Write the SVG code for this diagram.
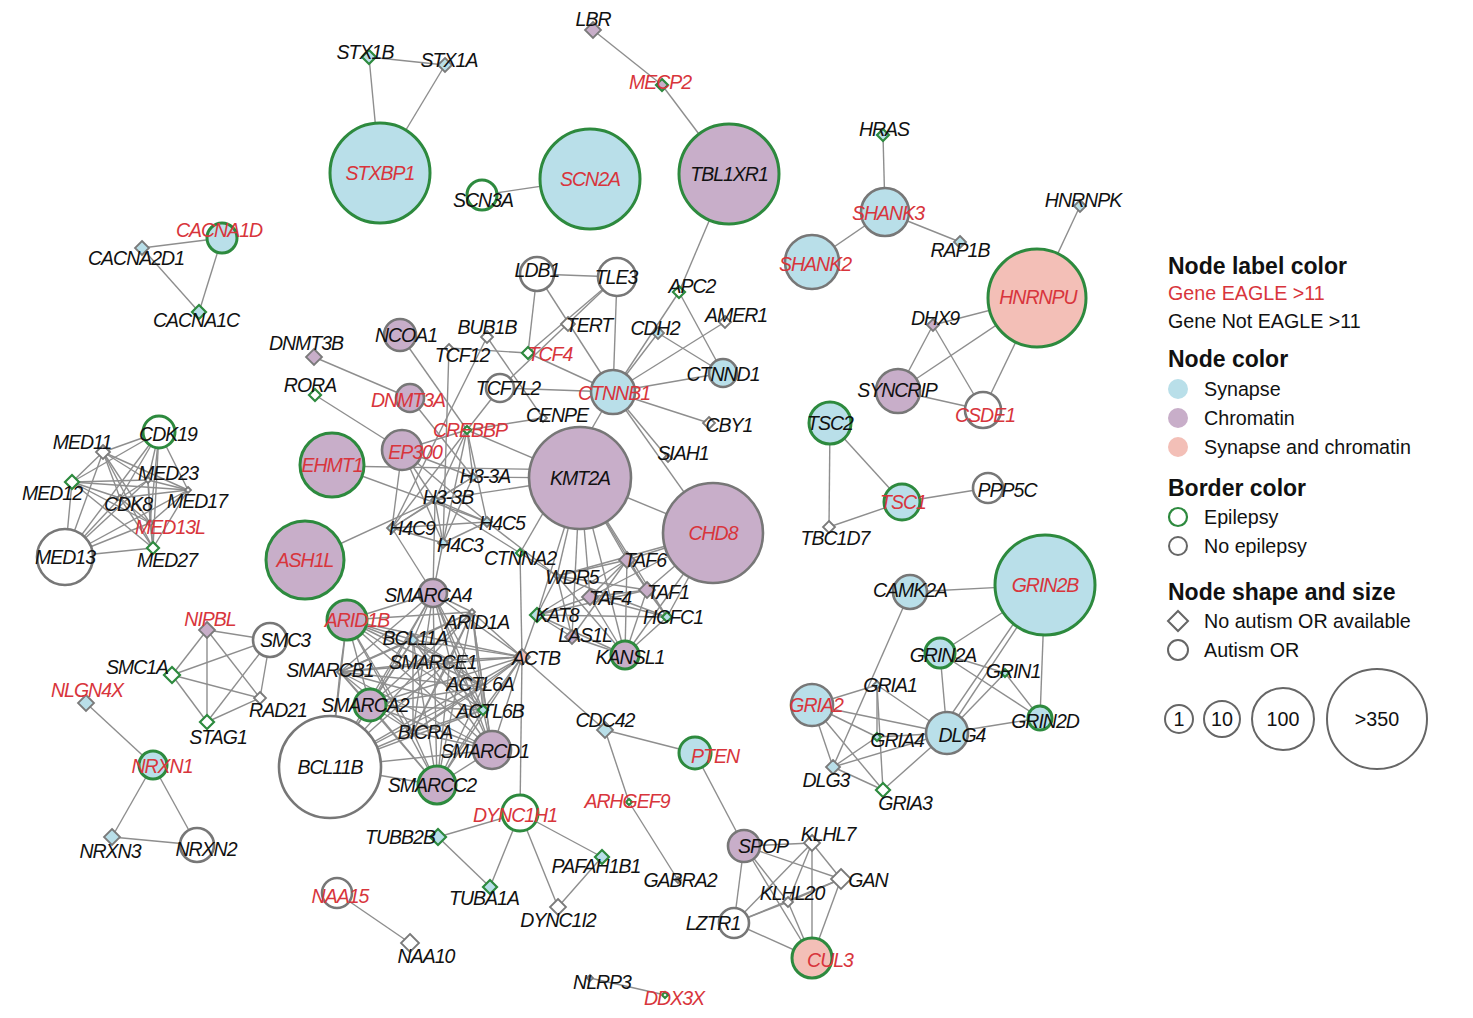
<svg xmlns="http://www.w3.org/2000/svg" xmlns:xlink="http://www.w3.org/1999/xlink" width="1473" height="1018" viewBox="0 0 1473 1018">
<style>
.e line{stroke:#8e8e8e;stroke-width:1.4}
.syn{fill:#b9dfe9}.chr{fill:#c8aec9}.sc{fill:#f3bfb7}.nf{fill:#fff}
.ep{stroke:#2d8a3e;stroke-width:3}.ne{stroke:#777;stroke-width:2.6}
.dep{stroke:#2d8a3e;stroke-width:2.2}.dne{stroke:#7a7a7a;stroke-width:1.8}
.l{font-family:"Liberation Sans",Arial,sans-serif;font-style:italic;font-size:19.5px;fill:#111;text-anchor:middle;letter-spacing:-1px}
.r{fill:#d8353c}
.h{font-family:"Liberation Sans",Arial,sans-serif;font-weight:bold;font-size:23px;fill:#111}
.t{font-family:"Liberation Sans",Arial,sans-serif;font-size:19.7px;fill:#111}
.tr{fill:#d8353c}
.tc{text-anchor:middle}
</style>
<defs>
<path id="d3" d="M0,-3L3,0L0,3L-3,0Z"/>
<path id="d4" d="M0,-4L4,0L0,4L-4,0Z"/>
<path id="d5" d="M0,-5L5,0L0,5L-5,0Z"/>
<path id="d6" d="M0,-6L6,0L0,6L-6,0Z"/>
<path id="d7" d="M0,-7L7,0L0,7L-7,0Z"/>
<path id="d8" d="M0,-8L8,0L0,8L-8,0Z"/>
<path id="d9" d="M0,-9L9,0L0,9L-9,0Z"/>
<path id="d10" d="M0,-10L10,0L0,10L-10,0Z"/>
<path id="d11" d="M0,-11L11,0L0,11L-11,0Z"/>
</defs>
<rect width="1473" height="1018" fill="#fff"/>
<g id="edges" class="e">
<line x1="369" y1="57" x2="445" y2="65"/><line x1="369" y1="57" x2="380" y2="173"/><line x1="445" y1="65" x2="380" y2="173"/>
<line x1="593" y1="30" x2="662" y2="85"/><line x1="662" y1="85" x2="729" y2="174"/><line x1="482" y1="195" x2="590" y2="179"/>
<line x1="729" y1="174" x2="679" y2="292"/>
<line x1="222" y1="238" x2="142" y2="248"/><line x1="222" y1="238" x2="199" y2="312"/><line x1="142" y1="248" x2="199" y2="312"/>
<line x1="883" y1="135" x2="885" y2="212"/><line x1="885" y1="212" x2="812" y2="262"/><line x1="885" y1="212" x2="960" y2="242"/>
<line x1="1080" y1="206" x2="1037" y2="298"/><line x1="1037" y1="298" x2="933" y2="325"/><line x1="1037" y1="298" x2="898" y2="391"/><line x1="1037" y1="298" x2="983" y2="410"/>
<line x1="933" y1="325" x2="898" y2="391"/><line x1="933" y1="325" x2="983" y2="410"/><line x1="898" y1="391" x2="983" y2="410"/>
<line x1="830" y1="423" x2="902" y2="502"/><line x1="830" y1="423" x2="829" y2="527"/><line x1="902" y1="502" x2="829" y2="527"/><line x1="902" y1="502" x2="988" y2="488"/>
<line x1="537" y1="274" x2="617" y2="277"/><line x1="537" y1="274" x2="528" y2="353"/><line x1="537" y1="274" x2="613" y2="392"/>
<line x1="617" y1="277" x2="528" y2="353"/><line x1="617" y1="277" x2="500" y2="388"/><line x1="617" y1="277" x2="613" y2="392"/>
<line x1="528" y1="353" x2="449" y2="348"/><line x1="528" y1="353" x2="613" y2="392"/><line x1="500" y1="388" x2="613" y2="392"/>
<line x1="679" y1="292" x2="613" y2="392"/><line x1="679" y1="292" x2="723" y2="373"/><line x1="658" y1="333" x2="613" y2="392"/><line x1="658" y1="333" x2="723" y2="373"/>
<line x1="725" y1="322" x2="613" y2="392"/><line x1="613" y1="392" x2="723" y2="373"/><line x1="613" y1="392" x2="709" y2="423"/><line x1="613" y1="392" x2="668" y2="458"/>
<line x1="613" y1="392" x2="713" y2="533"/><line x1="613" y1="392" x2="520" y2="553"/>
<line x1="402" y1="450" x2="467" y2="430"/><line x1="402" y1="450" x2="473" y2="477"/><line x1="402" y1="450" x2="435" y2="500"/><line x1="402" y1="450" x2="392" y2="528"/><line x1="402" y1="450" x2="487" y2="522"/><line x1="402" y1="450" x2="443" y2="543"/>
<line x1="467" y1="430" x2="473" y2="477"/><line x1="467" y1="430" x2="435" y2="500"/><line x1="467" y1="430" x2="392" y2="528"/><line x1="467" y1="430" x2="487" y2="522"/><line x1="467" y1="430" x2="443" y2="543"/>
<line x1="467" y1="430" x2="580" y2="478"/><line x1="467" y1="430" x2="543" y2="418"/><line x1="467" y1="430" x2="500" y2="388"/><line x1="400" y1="335" x2="467" y2="430"/>
<line x1="314" y1="357" x2="410" y2="398"/><line x1="410" y1="398" x2="473" y2="477"/><line x1="315" y1="395" x2="402" y2="450"/>
<line x1="332" y1="466" x2="580" y2="470"/><line x1="332" y1="465" x2="487" y2="522"/><line x1="305" y1="560" x2="435" y2="500"/>
<line x1="473" y1="477" x2="580" y2="478"/><line x1="435" y1="500" x2="580" y2="478"/>
<line x1="473" y1="477" x2="435" y2="500"/><line x1="473" y1="477" x2="392" y2="528"/><line x1="473" y1="477" x2="443" y2="543"/>
<line x1="435" y1="500" x2="392" y2="528"/><line x1="435" y1="500" x2="487" y2="522"/><line x1="435" y1="500" x2="443" y2="543"/>
<line x1="392" y1="528" x2="487" y2="522"/><line x1="392" y1="528" x2="443" y2="543"/><line x1="487" y1="522" x2="443" y2="543"/>
<line x1="449" y1="348" x2="443" y2="543"/><line x1="487" y1="337" x2="392" y2="528"/><line x1="487" y1="337" x2="543" y2="418"/>
<line x1="487" y1="522" x2="557" y2="576"/><line x1="435" y1="500" x2="557" y2="576"/>
<line x1="433" y1="593" x2="443" y2="543"/><line x1="433" y1="593" x2="392" y2="528"/><line x1="433" y1="593" x2="435" y2="500"/>
<line x1="520" y1="553" x2="522" y2="657"/><line x1="522" y1="657" x2="520" y2="813"/><line x1="522" y1="657" x2="537" y2="615"/><line x1="522" y1="657" x2="605" y2="730"/>
<line x1="580" y1="478" x2="627" y2="560"/><line x1="580" y1="478" x2="557" y2="576"/><line x1="580" y1="478" x2="590" y2="597"/><line x1="580" y1="478" x2="647" y2="590"/>
<line x1="580" y1="478" x2="537" y2="615"/><line x1="580" y1="478" x2="572" y2="637"/><line x1="580" y1="478" x2="625" y2="655"/><line x1="580" y1="478" x2="667" y2="617"/><line x1="580" y1="478" x2="713" y2="533"/>
<line x1="627" y1="560" x2="590" y2="597"/><line x1="627" y1="560" x2="647" y2="590"/><line x1="627" y1="560" x2="557" y2="576"/><line x1="627" y1="560" x2="537" y2="615"/>
<line x1="627" y1="560" x2="667" y2="617"/><line x1="627" y1="560" x2="625" y2="655"/><line x1="627" y1="560" x2="572" y2="637"/>
<line x1="590" y1="597" x2="647" y2="590"/><line x1="590" y1="597" x2="537" y2="615"/><line x1="590" y1="597" x2="625" y2="655"/><line x1="590" y1="597" x2="667" y2="617"/>
<line x1="647" y1="590" x2="667" y2="617"/><line x1="647" y1="590" x2="625" y2="655"/><line x1="647" y1="590" x2="557" y2="576"/><line x1="647" y1="590" x2="537" y2="615"/>
<line x1="557" y1="576" x2="537" y2="615"/><line x1="557" y1="576" x2="625" y2="655"/><line x1="557" y1="576" x2="667" y2="617"/><line x1="557" y1="576" x2="572" y2="637"/>
<line x1="537" y1="615" x2="625" y2="655"/><line x1="537" y1="615" x2="667" y2="617"/><line x1="537" y1="615" x2="572" y2="637"/>
<line x1="572" y1="637" x2="625" y2="655"/><line x1="667" y1="617" x2="625" y2="655"/>
<line x1="713" y1="533" x2="627" y2="560"/><line x1="713" y1="533" x2="647" y2="590"/><line x1="713" y1="533" x2="667" y2="617"/><line x1="713" y1="533" x2="625" y2="655"/><line x1="713" y1="533" x2="590" y2="597"/><line x1="713" y1="533" x2="557" y2="576"/>
<line x1="433" y1="593" x2="347" y2="620"/><line x1="433" y1="593" x2="472" y2="612"/><line x1="433" y1="593" x2="413" y2="640"/><line x1="433" y1="593" x2="450" y2="660"/><line x1="433" y1="593" x2="340" y2="672"/><line x1="433" y1="593" x2="483" y2="687"/><line x1="433" y1="593" x2="370" y2="705"/><line x1="433" y1="593" x2="483" y2="710"/><line x1="433" y1="593" x2="413" y2="732"/><line x1="433" y1="593" x2="492" y2="750"/><line x1="433" y1="593" x2="330" y2="767"/><line x1="433" y1="593" x2="437" y2="785"/><line x1="433" y1="593" x2="522" y2="657"/>
<line x1="347" y1="620" x2="472" y2="612"/><line x1="347" y1="620" x2="413" y2="640"/><line x1="347" y1="620" x2="450" y2="660"/><line x1="347" y1="620" x2="340" y2="672"/><line x1="347" y1="620" x2="483" y2="687"/><line x1="347" y1="620" x2="370" y2="705"/><line x1="347" y1="620" x2="483" y2="710"/><line x1="347" y1="620" x2="413" y2="732"/><line x1="347" y1="620" x2="492" y2="750"/><line x1="347" y1="620" x2="330" y2="767"/><line x1="347" y1="620" x2="437" y2="785"/><line x1="347" y1="620" x2="522" y2="657"/>
<line x1="472" y1="612" x2="413" y2="640"/><line x1="472" y1="612" x2="450" y2="660"/><line x1="472" y1="612" x2="340" y2="672"/><line x1="472" y1="612" x2="483" y2="687"/><line x1="472" y1="612" x2="370" y2="705"/><line x1="472" y1="612" x2="483" y2="710"/><line x1="472" y1="612" x2="413" y2="732"/><line x1="472" y1="612" x2="492" y2="750"/><line x1="472" y1="612" x2="330" y2="767"/><line x1="472" y1="612" x2="437" y2="785"/><line x1="472" y1="612" x2="522" y2="657"/>
<line x1="413" y1="640" x2="450" y2="660"/><line x1="413" y1="640" x2="340" y2="672"/><line x1="413" y1="640" x2="483" y2="687"/><line x1="413" y1="640" x2="370" y2="705"/><line x1="413" y1="640" x2="483" y2="710"/><line x1="413" y1="640" x2="413" y2="732"/><line x1="413" y1="640" x2="492" y2="750"/><line x1="413" y1="640" x2="330" y2="767"/><line x1="413" y1="640" x2="437" y2="785"/><line x1="413" y1="640" x2="522" y2="657"/>
<line x1="450" y1="660" x2="340" y2="672"/><line x1="450" y1="660" x2="483" y2="687"/><line x1="450" y1="660" x2="370" y2="705"/><line x1="450" y1="660" x2="483" y2="710"/><line x1="450" y1="660" x2="413" y2="732"/><line x1="450" y1="660" x2="492" y2="750"/><line x1="450" y1="660" x2="330" y2="767"/><line x1="450" y1="660" x2="437" y2="785"/><line x1="450" y1="660" x2="522" y2="657"/>
<line x1="340" y1="672" x2="483" y2="687"/><line x1="340" y1="672" x2="370" y2="705"/><line x1="340" y1="672" x2="483" y2="710"/><line x1="340" y1="672" x2="413" y2="732"/><line x1="340" y1="672" x2="492" y2="750"/><line x1="340" y1="672" x2="330" y2="767"/><line x1="340" y1="672" x2="437" y2="785"/><line x1="340" y1="672" x2="522" y2="657"/>
<line x1="483" y1="687" x2="370" y2="705"/><line x1="483" y1="687" x2="483" y2="710"/><line x1="483" y1="687" x2="413" y2="732"/><line x1="483" y1="687" x2="492" y2="750"/><line x1="483" y1="687" x2="330" y2="767"/><line x1="483" y1="687" x2="437" y2="785"/><line x1="483" y1="687" x2="522" y2="657"/>
<line x1="370" y1="705" x2="483" y2="710"/><line x1="370" y1="705" x2="413" y2="732"/><line x1="370" y1="705" x2="492" y2="750"/><line x1="370" y1="705" x2="330" y2="767"/><line x1="370" y1="705" x2="437" y2="785"/><line x1="370" y1="705" x2="522" y2="657"/>
<line x1="483" y1="710" x2="413" y2="732"/><line x1="483" y1="710" x2="492" y2="750"/><line x1="483" y1="710" x2="330" y2="767"/><line x1="483" y1="710" x2="437" y2="785"/><line x1="483" y1="710" x2="522" y2="657"/>
<line x1="413" y1="732" x2="492" y2="750"/><line x1="413" y1="732" x2="330" y2="767"/><line x1="413" y1="732" x2="437" y2="785"/><line x1="413" y1="732" x2="522" y2="657"/>
<line x1="492" y1="750" x2="330" y2="767"/><line x1="492" y1="750" x2="437" y2="785"/><line x1="492" y1="750" x2="522" y2="657"/>
<line x1="330" y1="767" x2="437" y2="785"/><line x1="330" y1="767" x2="522" y2="657"/><line x1="437" y1="785" x2="522" y2="657"/>
<line x1="103" y1="452" x2="159" y2="432"/><line x1="103" y1="452" x2="72" y2="482"/><line x1="103" y1="452" x2="148" y2="480"/><line x1="103" y1="452" x2="120" y2="498"/><line x1="103" y1="452" x2="188" y2="490"/><line x1="103" y1="452" x2="150" y2="523"/><line x1="103" y1="452" x2="153" y2="548"/><line x1="103" y1="452" x2="65" y2="557"/>
<line x1="159" y1="432" x2="72" y2="482"/><line x1="159" y1="432" x2="148" y2="480"/><line x1="159" y1="432" x2="120" y2="498"/><line x1="159" y1="432" x2="188" y2="490"/><line x1="159" y1="432" x2="150" y2="523"/><line x1="159" y1="432" x2="153" y2="548"/><line x1="159" y1="432" x2="65" y2="557"/>
<line x1="72" y1="482" x2="148" y2="480"/><line x1="72" y1="482" x2="120" y2="498"/><line x1="72" y1="482" x2="188" y2="490"/><line x1="72" y1="482" x2="150" y2="523"/><line x1="72" y1="482" x2="153" y2="548"/><line x1="72" y1="482" x2="65" y2="557"/>
<line x1="148" y1="480" x2="120" y2="498"/><line x1="148" y1="480" x2="188" y2="490"/><line x1="148" y1="480" x2="150" y2="523"/><line x1="148" y1="480" x2="153" y2="548"/><line x1="148" y1="480" x2="65" y2="557"/>
<line x1="120" y1="498" x2="188" y2="490"/><line x1="120" y1="498" x2="150" y2="523"/><line x1="120" y1="498" x2="153" y2="548"/><line x1="120" y1="498" x2="65" y2="557"/>
<line x1="188" y1="490" x2="150" y2="523"/><line x1="188" y1="490" x2="153" y2="548"/><line x1="188" y1="490" x2="65" y2="557"/>
<line x1="150" y1="523" x2="153" y2="548"/><line x1="150" y1="523" x2="65" y2="557"/><line x1="153" y1="548" x2="65" y2="557"/>
<line x1="207" y1="630" x2="270" y2="640"/><line x1="207" y1="630" x2="172" y2="675"/><line x1="207" y1="630" x2="207" y2="722"/><line x1="207" y1="630" x2="260" y2="698"/>
<line x1="270" y1="640" x2="172" y2="675"/><line x1="270" y1="640" x2="207" y2="722"/><line x1="270" y1="640" x2="260" y2="698"/>
<line x1="172" y1="675" x2="260" y2="698"/><line x1="172" y1="675" x2="207" y2="722"/><line x1="207" y1="722" x2="260" y2="698"/>
<line x1="86" y1="703" x2="153" y2="765"/><line x1="153" y1="765" x2="112" y2="837"/><line x1="153" y1="765" x2="197" y2="845"/><line x1="112" y1="837" x2="197" y2="845"/>
<line x1="910" y1="592" x2="1045" y2="585"/><line x1="910" y1="592" x2="833" y2="767"/><line x1="1045" y1="585" x2="940" y2="653"/>
<line x1="1045" y1="585" x2="947" y2="733"/><line x1="1038" y1="588" x2="940" y2="731"/><line x1="1045" y1="585" x2="1040" y2="718"/>
<line x1="940" y1="653" x2="947" y2="733"/><line x1="940" y1="653" x2="1040" y2="718"/><line x1="940" y1="653" x2="1005" y2="673"/>
<line x1="1005" y1="673" x2="1040" y2="718"/><line x1="1005" y1="673" x2="947" y2="733"/><line x1="1040" y1="718" x2="947" y2="733"/>
<line x1="877" y1="685" x2="812" y2="705"/><line x1="877" y1="685" x2="947" y2="733"/><line x1="877" y1="685" x2="877" y2="737"/><line x1="877" y1="685" x2="883" y2="790"/>
<line x1="812" y1="705" x2="877" y2="737"/><line x1="812" y1="705" x2="947" y2="733"/><line x1="812" y1="705" x2="833" y2="767"/><line x1="812" y1="705" x2="883" y2="790"/>
<line x1="877" y1="737" x2="833" y2="767"/><line x1="877" y1="737" x2="947" y2="733"/><line x1="947" y1="733" x2="833" y2="767"/><line x1="947" y1="733" x2="883" y2="790"/><line x1="833" y1="767" x2="883" y2="790"/>
<line x1="605" y1="730" x2="695" y2="753"/><line x1="605" y1="730" x2="629" y2="802"/><line x1="629" y1="802" x2="678" y2="880"/><line x1="695" y1="753" x2="744" y2="846"/>
<line x1="744" y1="846" x2="812" y2="843"/><line x1="744" y1="846" x2="841" y2="879"/><line x1="744" y1="846" x2="734" y2="923"/><line x1="744" y1="846" x2="812" y2="958"/><line x1="744" y1="846" x2="788" y2="902"/>
<line x1="812" y1="843" x2="841" y2="879"/><line x1="812" y1="843" x2="734" y2="923"/><line x1="812" y1="843" x2="812" y2="958"/><line x1="812" y1="843" x2="788" y2="902"/>
<line x1="841" y1="879" x2="812" y2="958"/><line x1="841" y1="879" x2="734" y2="923"/><line x1="841" y1="879" x2="788" y2="902"/>
<line x1="788" y1="902" x2="734" y2="923"/><line x1="788" y1="902" x2="812" y2="958"/><line x1="734" y1="923" x2="812" y2="958"/>
<line x1="520" y1="813" x2="438" y2="837"/><line x1="520" y1="813" x2="490" y2="887"/><line x1="520" y1="813" x2="558" y2="907"/><line x1="520" y1="813" x2="602" y2="857"/>
<line x1="438" y1="837" x2="490" y2="887"/><line x1="602" y1="857" x2="558" y2="907"/>
<line x1="337" y1="893" x2="410" y2="943"/><line x1="590" y1="978" x2="665" y2="995"/>
</g>
<g id="n-STX1B"><use href="#d7" x="369" y="57" class="syn dep"/><text class="l" x="365" y="59">STX1B</text></g>
<g id="n-STX1A"><use href="#d7" x="445" y="65" class="syn dne"/><text class="l" x="449" y="67">STX1A</text></g>
<g id="n-STXBP1"><circle cx="380" cy="173" r="50" class="syn ep"/><text class="l r" x="380" y="180">STXBP1</text></g>
<g id="n-SCN3A"><circle cx="482" cy="195" r="15" class="nf ep"/><text class="l" x="483" y="207">SCN3A</text></g>
<g id="n-SCN2A"><circle cx="590" cy="179" r="50" class="syn ep"/><text class="l r" x="590" y="186">SCN2A</text></g>
<g id="n-LBR"><use href="#d8" x="593" y="30" class="chr dne"/><text class="l" x="593" y="26">LBR</text></g>
<g id="n-MECP2"><use href="#d6" x="662" y="85" class="chr dep"/><text class="l r" x="660" y="89">MECP2</text></g>
<g id="n-TBL1XR1"><circle cx="729" cy="174" r="50" class="chr ep"/><text class="l" x="729" y="181">TBL1XR1</text></g>
<g id="n-HRAS"><use href="#d6" x="883" y="135" class="syn dep"/><text class="l" x="884" y="136">HRAS</text></g>
<g id="n-SHANK3"><circle cx="885" cy="212" r="24" class="syn ne"/><text class="l r" x="888" y="220">SHANK3</text></g>
<g id="n-SHANK2"><circle cx="812" cy="262" r="27" class="syn ne"/><text class="l r" x="815" y="271">SHANK2</text></g>
<g id="n-RAP1B"><use href="#d6" x="960" y="242" class="syn dne"/><text class="l" x="960" y="257">RAP1B</text></g>
<g id="n-HNRNPK"><use href="#d6" x="1080" y="206" class="syn dne"/><text class="l" x="1083" y="207">HNRNPK</text></g>
<g id="n-HNRNPU"><circle cx="1037" cy="298" r="49" class="sc ep"/><text class="l r" x="1038" y="304">HNRNPU</text></g>
<g id="n-CACNA1D"><circle cx="222" cy="238" r="15" class="syn ep"/><text class="l r" x="219" y="237">CACNA1D</text></g>
<g id="n-CACNA2D1"><use href="#d7" x="142" y="248" class="syn dne"/><text class="l" x="136" y="265">CACNA2D1</text></g>
<g id="n-CACNA1C"><use href="#d7" x="199" y="312" class="syn dep"/><text class="l" x="196" y="327">CACNA1C</text></g>
<g id="n-DHX9"><use href="#d6" x="933" y="325" class="chr dne"/><text class="l" x="935" y="325">DHX9</text></g>
<g id="n-SYNCRIP"><circle cx="898" cy="391" r="22" class="chr ne"/><text class="l" x="897" y="397">SYNCRIP</text></g>
<g id="n-CSDE1"><circle cx="983" cy="410" r="18" class="nf ne"/><text class="l r" x="985" y="422">CSDE1</text></g>
<g id="n-TSC2"><circle cx="830" cy="423" r="21" class="syn ep"/><text class="l" x="830" y="430">TSC2</text></g>
<g id="n-TSC1"><circle cx="902" cy="502" r="18" class="syn ep"/><text class="l r" x="903" y="509">TSC1</text></g>
<g id="n-PPP5C"><circle cx="988" cy="488" r="15" class="nf ne"/><text class="l" x="1007" y="497">PPP5C</text></g>
<g id="n-TBC1D7"><use href="#d6" x="829" y="527" class="nf dne"/><text class="l" x="835" y="545">TBC1D7</text></g>
<g id="n-LDB1"><circle cx="537" cy="274" r="17" class="nf ne"/><text class="l" x="537" y="277">LDB1</text></g>
<g id="n-TLE3"><circle cx="617" cy="277" r="19" class="nf ne"/><text class="l" x="616" y="284">TLE3</text></g>
<g id="n-APC2"><use href="#d6" x="679" y="292" class="nf dep"/><text class="l" x="692" y="293">APC2</text></g>
<g id="n-TERT"><use href="#d7" x="568" y="324" class="nf dne"/><text class="l" x="589" y="332">TERT</text></g>
<g id="n-CDH2"><use href="#d6" x="658" y="333" class="syn dne"/><text class="l" x="655" y="335">CDH2</text></g>
<g id="n-AMER1"><use href="#d6" x="725" y="322" class="nf dne"/><text class="l" x="736" y="322">AMER1</text></g>
<g id="n-BUB1B"><use href="#d6" x="487" y="337" class="nf dne"/><text class="l" x="487" y="334">BUB1B</text></g>
<g id="n-NCOA1"><circle cx="400" cy="335" r="16" class="chr ne"/><text class="l" x="406" y="342">NCOA1</text></g>
<g id="n-DNMT3B"><use href="#d8" x="314" y="357" class="chr dne"/><text class="l" x="306" y="350">DNMT3B</text></g>
<g id="n-TCF12"><use href="#d4" x="449" y="348" class="nf dne"/><text class="l" x="462" y="362">TCF12</text></g>
<g id="n-TCF4"><use href="#d6" x="528" y="353" class="nf dep"/><text class="l r" x="550" y="361">TCF4</text></g>
<g id="n-CTNND1"><circle cx="723" cy="373" r="14" class="syn ne"/><text class="l" x="723" y="381">CTNND1</text></g>
<g id="n-RORA"><use href="#d6" x="315" y="395" class="nf dep"/><text class="l" x="310" y="392">RORA</text></g>
<g id="n-TCF7L2"><circle cx="500" cy="388" r="14" class="nf ne"/><text class="l" x="508" y="395">TCF7L2</text></g>
<g id="n-CTNNB1"><circle cx="613" cy="392" r="22" class="syn ne"/><text class="l r" x="614" y="400">CTNNB1</text></g>
<g id="n-DNMT3A"><circle cx="410" cy="398" r="14" class="chr ne"/><text class="l r" x="408" y="407">DNMT3A</text></g>
<g id="n-CENPE"><use href="#d4" x="543" y="418" class="nf dne"/><text class="l" x="557" y="422">CENPE</text></g>
<g id="n-CBY1"><use href="#d6" x="709" y="423" class="nf dne"/><text class="l" x="729" y="432">CBY1</text></g>
<g id="n-CREBBP"><use href="#d4" x="467" y="430" class="nf dep"/><text class="l r" x="470" y="437">CREBBP</text></g>
<g id="n-EP300"><circle cx="402" cy="450" r="20" class="chr ne"/><text class="l r" x="415" y="459">EP300</text></g>
<g id="n-SIAH1"><use href="#d4" x="668" y="458" class="nf dne"/><text class="l" x="683" y="460">SIAH1</text></g>
<g id="n-EHMT1"><circle cx="332" cy="465" r="32" class="chr ep"/><text class="l r" x="332" y="472">EHMT1</text></g>
<g id="n-H3-3A"><use href="#d4" x="473" y="477" class="syn dne"/><text class="l" x="485" y="483">H3-3A</text></g>
<g id="n-KMT2A"><circle cx="580" cy="478" r="51" class="chr ne"/><text class="l" x="580" y="485">KMT2A</text></g>
<g id="n-H3-3B"><use href="#d4" x="435" y="500" class="syn dne"/><text class="l" x="448" y="504">H3-3B</text></g>
<g id="n-H4C9"><use href="#d5" x="392" y="528" class="syn dne"/><text class="l" x="412" y="535">H4C9</text></g>
<g id="n-H4C5"><use href="#d5" x="487" y="522" class="syn dne"/><text class="l" x="502" y="530">H4C5</text></g>
<g id="n-CHD8"><circle cx="713" cy="533" r="50" class="chr ne"/><text class="l r" x="713" y="540">CHD8</text></g>
<g id="n-H4C3"><use href="#d5" x="443" y="543" class="syn dne"/><text class="l" x="460" y="552">H4C3</text></g>
<g id="n-CTNNA2"><use href="#d4" x="520" y="553" class="nf dep"/><text class="l" x="520" y="565">CTNNA2</text></g>
<g id="n-ASH1L"><circle cx="305" cy="560" r="39" class="chr ep"/><text class="l r" x="305" y="567">ASH1L</text></g>
<g id="n-TAF6"><use href="#d8" x="627" y="560" class="chr dne"/><text class="l" x="645" y="567">TAF6</text></g>
<g id="n-WDR5"><use href="#d3" x="557" y="576" class="nf dne"/><text class="l" x="572" y="584">WDR5</text></g>
<g id="n-TAF1"><use href="#d8" x="647" y="590" class="chr dne"/><text class="l" x="668" y="599">TAF1</text></g>
<g id="n-TAF4"><use href="#d8" x="590" y="597" class="chr dne"/><text class="l" x="610" y="605">TAF4</text></g>
<g id="n-KAT8"><use href="#d7" x="537" y="615" class="syn dep"/><text class="l" x="557" y="622">KAT8</text></g>
<g id="n-HCFC1"><use href="#d5" x="667" y="617" class="syn dep"/><text class="l" x="673" y="624">HCFC1</text></g>
<g id="n-LAS1L"><use href="#d7" x="572" y="637" class="chr dne"/><text class="l" x="585" y="642">LAS1L</text></g>
<g id="n-KANSL1"><circle cx="625" cy="655" r="14" class="chr ep"/><text class="l" x="630" y="664">KANSL1</text></g>
<g id="n-SMARCA4"><circle cx="433" cy="593" r="14" class="chr ne"/><text class="l" x="428" y="602">SMARCA4</text></g>
<g id="n-ARID1B"><circle cx="347" cy="620" r="20" class="chr ep"/><text class="l r" x="357" y="627">ARID1B</text></g>
<g id="n-ARID1A"><use href="#d3" x="472" y="612" class="nf dne"/><text class="l" x="477" y="629">ARID1A</text></g>
<g id="n-BCL11A"><use href="#d5" x="413" y="640" class="syn dne"/><text class="l" x="415" y="645">BCL11A</text></g>
<g id="n-SMARCE1"><use href="#d3" x="450" y="660" class="nf dne"/><text class="l" x="433" y="669">SMARCE1</text></g>
<g id="n-ACTB"><use href="#d8" x="522" y="657" class="sc dne"/><text class="l" x="536" y="665">ACTB</text></g>
<g id="n-SMARCB1"><use href="#d3" x="340" y="672" class="nf dne"/><text class="l" x="330" y="677">SMARCB1</text></g>
<g id="n-ACTL6A"><use href="#d3" x="483" y="687" class="nf dne"/><text class="l" x="480" y="691">ACTL6A</text></g>
<g id="n-SMARCA2"><circle cx="370" cy="705" r="16" class="chr ep"/><text class="l" x="365" y="712">SMARCA2</text></g>
<g id="n-ACTL6B"><use href="#d5" x="483" y="710" class="syn dep"/><text class="l" x="490" y="718">ACTL6B</text></g>
<g id="n-BICRA"><use href="#d3" x="413" y="732" class="nf dne"/><text class="l" x="425" y="739">BICRA</text></g>
<g id="n-SMARCD1"><circle cx="492" cy="750" r="19" class="chr ne"/><text class="l" x="485" y="758">SMARCD1</text></g>
<g id="n-BCL11B"><circle cx="330" cy="767" r="51" class="nf ne"/><text class="l" x="330" y="774">BCL11B</text></g>
<g id="n-SMARCC2"><circle cx="437" cy="785" r="19" class="chr ep"/><text class="l" x="432" y="792">SMARCC2</text></g>
<g id="n-DYNC1H1"><circle cx="520" cy="813" r="18" class="nf ep"/><text class="l r" x="515" y="822">DYNC1H1</text></g>
<g id="n-MED11"><use href="#d7" x="103" y="452" class="nf dne"/><text class="l" x="82" y="449">MED11</text></g>
<g id="n-CDK19"><circle cx="159" cy="432" r="16" class="nf ep"/><text class="l" x="168" y="441">CDK19</text></g>
<g id="n-MED12"><use href="#d7" x="72" y="482" class="nf dep"/><text class="l" x="52" y="500">MED12</text></g>
<g id="n-MED23"><use href="#d3" x="148" y="480" class="nf dne"/><text class="l" x="168" y="480">MED23</text></g>
<g id="n-CDK8"><use href="#d3" x="120" y="498" class="nf dne"/><text class="l" x="128" y="511">CDK8</text></g>
<g id="n-MED17"><use href="#d3" x="188" y="490" class="nf dne"/><text class="l" x="197" y="508">MED17</text></g>
<g id="n-MED13L"><use href="#d3" x="150" y="523" class="nf dne"/><text class="l r" x="170" y="534">MED13L</text></g>
<g id="n-MED27"><use href="#d6" x="153" y="548" class="nf dep"/><text class="l" x="167" y="567">MED27</text></g>
<g id="n-MED13"><circle cx="65" cy="557" r="28" class="nf ne"/><text class="l" x="65" y="564">MED13</text></g>
<g id="n-NIPBL"><use href="#d8" x="207" y="630" class="chr dne"/><text class="l r" x="210" y="626">NIPBL</text></g>
<g id="n-SMC3"><circle cx="270" cy="640" r="17" class="nf ne"/><text class="l" x="285" y="647">SMC3</text></g>
<g id="n-SMC1A"><use href="#d8" x="172" y="675" class="nf dep"/><text class="l" x="137" y="674">SMC1A</text></g>
<g id="n-RAD21"><use href="#d6" x="260" y="698" class="nf dne"/><text class="l" x="278" y="717">RAD21</text></g>
<g id="n-STAG1"><use href="#d7" x="207" y="722" class="nf dep"/><text class="l" x="218" y="744">STAG1</text></g>
<g id="n-NLGN4X"><use href="#d8" x="86" y="703" class="syn dne"/><text class="l r" x="87" y="697">NLGN4X</text></g>
<g id="n-NRXN1"><circle cx="153" cy="765" r="14" class="syn ep"/><text class="l r" x="162" y="773">NRXN1</text></g>
<g id="n-NRXN3"><use href="#d8" x="112" y="837" class="syn dne"/><text class="l" x="110" y="858">NRXN3</text></g>
<g id="n-NRXN2"><circle cx="197" cy="845" r="17" class="nf ne"/><text class="l" x="206" y="856">NRXN2</text></g>
<g id="n-CAMK2A"><circle cx="910" cy="592" r="17" class="syn ne"/><text class="l" x="910" y="597">CAMK2A</text></g>
<g id="n-GRIN2B"><circle cx="1045" cy="585" r="50" class="syn ep"/><text class="l r" x="1045" y="592">GRIN2B</text></g>
<g id="n-GRIN2A"><circle cx="940" cy="653" r="15" class="syn ep"/><text class="l" x="943" y="662">GRIN2A</text></g>
<g id="n-GRIN1"><use href="#d4" x="1005" y="673" class="syn dep"/><text class="l" x="1013" y="678">GRIN1</text></g>
<g id="n-GRIA1"><use href="#d4" x="877" y="685" class="syn dne"/><text class="l" x="890" y="692">GRIA1</text></g>
<g id="n-GRIA2"><circle cx="812" cy="705" r="21" class="syn ne"/><text class="l r" x="816" y="712">GRIA2</text></g>
<g id="n-DLG4"><circle cx="947" cy="733" r="21" class="syn ne"/><text class="l" x="962" y="742">DLG4</text></g>
<g id="n-GRIN2D"><circle cx="1040" cy="718" r="12" class="syn ep"/><text class="l" x="1045" y="728">GRIN2D</text></g>
<g id="n-GRIA4"><use href="#d4" x="877" y="737" class="syn dep"/><text class="l" x="897" y="747">GRIA4</text></g>
<g id="n-DLG3"><use href="#d7" x="833" y="767" class="syn dne"/><text class="l" x="826" y="787">DLG3</text></g>
<g id="n-GRIA3"><use href="#d7" x="883" y="790" class="nf dep"/><text class="l" x="905" y="810">GRIA3</text></g>
<g id="n-CDC42"><use href="#d8" x="605" y="730" class="syn dne"/><text class="l" x="605" y="727">CDC42</text></g>
<g id="n-PTEN"><circle cx="695" cy="753" r="16" class="syn ep"/><text class="l r" x="715" y="763">PTEN</text></g>
<g id="n-ARHGEF9"><use href="#d3" x="629" y="802" class="nf dep"/><text class="l r" x="627" y="808">ARHGEF9</text></g>
<g id="n-GABRA2"><use href="#d3" x="678" y="880" class="nf dne"/><text class="l" x="680" y="887">GABRA2</text></g>
<g id="n-TUBB2B"><use href="#d8" x="438" y="837" class="syn dep"/><text class="l" x="400" y="844">TUBB2B</text></g>
<g id="n-TUBA1A"><use href="#d7" x="490" y="887" class="syn dep"/><text class="l" x="484" y="905">TUBA1A</text></g>
<g id="n-PAFAH1B1"><use href="#d7" x="602" y="857" class="syn dep"/><text class="l" x="596" y="873">PAFAH1B1</text></g>
<g id="n-DYNC1I2"><use href="#d8" x="558" y="907" class="nf dne"/><text class="l" x="558" y="927">DYNC1I2</text></g>
<g id="n-NAA15"><circle cx="337" cy="893" r="15" class="nf ne"/><text class="l r" x="340" y="903">NAA15</text></g>
<g id="n-NAA10"><use href="#d9" x="410" y="943" class="nf dne"/><text class="l" x="426" y="963">NAA10</text></g>
<g id="n-NLRP3"><use href="#d3" x="590" y="978" class="nf dne"/><text class="l" x="602" y="989">NLRP3</text></g>
<g id="n-DDX3X"><use href="#d3" x="665" y="995" class="nf dep"/><text class="l r" x="674" y="1005">DDX3X</text></g>
<g id="n-SPOP"><circle cx="744" cy="846" r="16" class="chr ne"/><text class="l" x="763" y="853">SPOP</text></g>
<g id="n-KLHL7"><use href="#d8" x="812" y="843" class="nf dne"/><text class="l" x="828" y="841">KLHL7</text></g>
<g id="n-GAN"><use href="#d10" x="841" y="879" class="nf dne"/><text class="l" x="868" y="887">GAN</text></g>
<g id="n-KLHL20"><use href="#d5" x="788" y="902" class="nf dne"/><text class="l" x="792" y="900">KLHL20</text></g>
<g id="n-LZTR1"><circle cx="734" cy="923" r="15" class="nf ne"/><text class="l" x="713" y="930">LZTR1</text></g>
<g id="n-CUL3"><circle cx="812" cy="958" r="20" class="sc ep"/><text class="l r" x="830" y="967">CUL3</text></g>
<g id="legend">
<text class="h" x="1168" y="274">Node label color</text>
<text class="t tr" x="1168" y="300">Gene EAGLE &gt;11</text>
<text class="t" x="1168" y="328">Gene Not EAGLE &gt;11</text>
<text class="h" x="1168" y="367">Node color</text>
<circle cx="1178" cy="389" r="10" class="syn"/><text class="t" x="1204" y="396">Synapse</text>
<circle cx="1178" cy="418" r="10" class="chr"/><text class="t" x="1204" y="425">Chromatin</text>
<circle cx="1178" cy="447" r="10" class="sc"/><text class="t" x="1204" y="454">Synapse and chromatin</text>
<text class="h" x="1168" y="496">Border color</text>
<circle cx="1178" cy="517" r="9" fill="none" stroke="#2d8a3e" stroke-width="2.2"/><text class="t" x="1204" y="524">Epilepsy</text>
<circle cx="1178" cy="546" r="9" fill="none" stroke="#666" stroke-width="2"/><text class="t" x="1204" y="553">No epilepsy</text>
<text class="h" x="1168" y="600">Node shape and size</text>
<use href="#d10" x="1178" y="621" fill="none" stroke="#666" stroke-width="2"/><text class="t" x="1204" y="628">No autism OR available</text>
<circle cx="1178" cy="650" r="10" fill="none" stroke="#666" stroke-width="2"/><text class="t" x="1204" y="657">Autism OR</text>
<circle cx="1179" cy="719" r="14" fill="none" stroke="#666" stroke-width="2"/><text class="t tc" x="1179" y="726">1</text>
<circle cx="1222" cy="719" r="18" fill="none" stroke="#666" stroke-width="2"/><text class="t tc" x="1222" y="726">10</text>
<circle cx="1283" cy="719" r="31" fill="none" stroke="#666" stroke-width="2"/><text class="t tc" x="1283" y="726">100</text>
<circle cx="1377" cy="719" r="50" fill="none" stroke="#666" stroke-width="2"/><text class="t tc" x="1377" y="726">&gt;350</text>
</g>
</svg>
